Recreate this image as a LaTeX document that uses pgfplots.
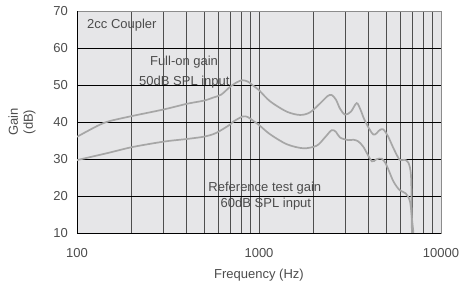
\documentclass[border=0pt]{standalone}
\usepackage{pgfplots}
\pgfplotsset{compat=1.18}
\usepackage{fontspec}
\setmainfont{Liberation Sans}
\definecolor{bgc}{HTML}{E6E6E8}
\definecolor{curve}{HTML}{A6A6A6}
\definecolor{txt}{HTML}{4C4C4C}
\definecolor{vgrid}{HTML}{4E4E4E}
\begin{document}
\begin{tikzpicture}
\begin{axis}[name=ax,
  scale only axis, width=364pt, height=222pt,
  xmode=log, xmin=100, xmax=10000, ymin=10, ymax=70,
  axis background/.style={fill=bgc},
  axis line style={black!45, line width=0.8pt},
  xtick={100,1000,10000}, xticklabels={100,1000,10000},
  ytick={10,20,...,70},
  major tick length=0pt, minor tick length=0pt,
  xmajorgrids=true, xminorgrids=true,
  major grid style={vgrid, line width=1pt},
  minor grid style={vgrid, line width=1pt},
  extra y ticks={10,20,30,40,50,60}, extra y tick labels={},
  extra y tick style={grid=major, major grid style={black, line width=0.8pt}},
  extra x ticks={100}, extra x tick labels={},
  extra x tick style={grid=major, major grid style={black, line width=0.8pt}},
  /pgf/number format/assume math mode=true,
  tick label style={font=\fontsize{13}{15}\selectfont, text=txt, inner sep=0pt},
  yticklabel style={anchor=east, xshift=-9pt},
  xticklabel style={anchor=north, yshift=-15pt},
  label style={font=\fontsize{13}{15}\selectfont, text=txt},
  xlabel={Frequency (Hz)},
  xlabel style={at={(axis description cs:0.5,-0.189)}, anchor=center},
  ylabel={Gain\\(dB)},
  ylabel style={at={(axis description cs:-0.151,0.5)}, anchor=center, align=center},
  clip=true,
]
\addplot[curve, line width=1.7pt, smooth, tension=0.5] coordinates {
(100,36.0) (130,39.0) (150,40.2) (200,41.6) (300,43.4) (400,44.9) (500,45.8)
(560,46.6) (620,47.4) (693,49.5) (760,50.8) (810,51.3) (870,50.9) (930,49.8)
(1000,48.6) (1150,45.6) (1420,42.8) (1680,41.9) (1906,42.6) (2163,45.0)
(2380,47.0) (2508,47.3) (2650,46.0) (2787,43.6) (2969,42.0) (3200,42.8)
(3441,45.1) (3620,43.2) (3823,40.3) (4248,36.6) (4600,37.8) (4820,38.0)
(5131,36.0) (5470,33.0) (5920,29.8) (6280,29.8) (6620,29.0) (6850,25) (6920,10) (6950,5)
};
\addplot[curve, line width=1.7pt, smooth, tension=0.5] coordinates {
(100,29.7) (150,31.7) (200,33.2) (300,34.7) (400,35.4) (494,36.0) (560,36.7)
(610,37.6) (693,39.3) (722,40.1) (814,41.5) (870,41.3) (930,40.3) (1000,39.2)
(1149,36.7) (1420,34.0) (1751,32.9) (2075,33.6) (2300,35.8) (2508,37.8)
(2650,37.3) (2787,35.8) (3095,35.1) (3297,35.2) (3500,34.8) (3743,33.3)
(4160,29.4) (4400,29.9) (4722,30.1) (5000,28.5) (5470,24.0) (5920,21.6)
(6400,20.7) (6756,18.5) (6950,13) (7050,10) (7100,5)
};
\node[anchor=west, text=txt, font=\fontsize{13}{15}\selectfont, inner sep=0pt] at (rel axis cs:0.0275,0.937) {2cc Coupler};
\node[text=txt, font=\fontsize{13}{15}\selectfont, inner sep=0pt] at (rel axis cs:0.294,0.770) {Full-on gain};
\node[text=txt, font=\fontsize{13}{15}\selectfont, inner sep=0pt] at (rel axis cs:0.295,0.680) {50dB SPL input};
\node[text=txt, font=\fontsize{13}{15}\selectfont, inner sep=0pt] at (rel axis cs:0.516,0.203) {Reference test gain};
\node[text=txt, font=\fontsize{13}{15}\selectfont, inner sep=0pt] at (rel axis cs:0.519,0.131) {60dB SPL input};
\end{axis}
\pgfresetboundingbox
\useasboundingbox ([xshift=-77pt,yshift=-52pt]ax.south west) rectangle ([xshift=22pt,yshift=11pt]ax.north east);
\end{tikzpicture}
\end{document}
